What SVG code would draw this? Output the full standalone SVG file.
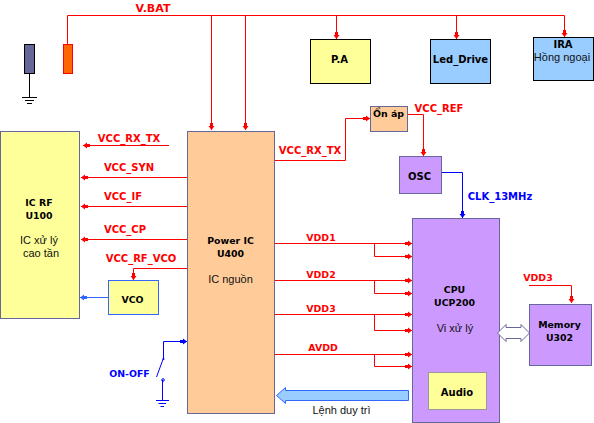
<svg xmlns="http://www.w3.org/2000/svg" width="594" height="423" viewBox="0 0 594 423">
<style>
text{font-family:"DejaVu Sans",sans-serif;font-size:10px;font-weight:bold;text-anchor:middle}
.r{fill:#f00}.b{fill:#00f}.k{fill:#000}
.s{font-size:9.4px}
.n{font-family:"Liberation Sans",sans-serif;font-size:11px;font-weight:normal;fill:#111}
.red{fill:none;stroke:#f00;stroke-width:1}
.blu{fill:none;stroke:#00f;stroke-width:1}
.box{stroke:#66669a;stroke-width:1}
.blk{stroke:#000;stroke-width:1}
.gnd{fill:none;stroke:#000;stroke-width:1}
</style>
<defs>
<marker id="ar" markerUnits="userSpaceOnUse" markerWidth="8" markerHeight="8" refX="7" refY="4" orient="auto"><path d="M0 2.500H3V1L7 4L3 7V5.500H0Z" fill="#f00"/></marker>
<marker id="ab" markerUnits="userSpaceOnUse" markerWidth="8" markerHeight="8" refX="7" refY="4" orient="auto"><path d="M0 2.500H3V1L7 4L3 7V5.500H0Z" fill="#00f"/></marker>
<marker id="al" markerUnits="userSpaceOnUse" markerWidth="8" markerHeight="8" refX="7" refY="4" orient="auto"><path d="M0 2.500H3V1L7 4L3 7V5.500H0Z" fill="#36f"/></marker>
</defs>
<g id="connectors">
<path class="red" d="M67.500 44V15.500H564.500V37" marker-end="url(#ar)"/>
<path class="red" d="M211.500 15.500V130" marker-end="url(#ar)"/>
<path class="red" d="M245.500 15.500V130" marker-end="url(#ar)"/>
<path class="red" d="M336.500 15.500V39" marker-end="url(#ar)"/>
<path class="red" d="M456.500 15.500V39" marker-end="url(#ar)"/>
<path class="red" d="M169 145.500H83" marker-end="url(#ar)"/>
<path class="red" d="M187 177.500H81" marker-end="url(#ar)"/>
<path class="red" d="M187 206.500H81" marker-end="url(#ar)"/>
<path class="red" d="M187 239.500H81" marker-end="url(#ar)"/>
<path class="red" d="M187 268.500H133.500V280" marker-end="url(#ar)"/>
<path d="M108 297.500H80" fill="none" stroke="#36f" marker-end="url(#al)"/>
<path class="red" d="M275 160.500H345.500V118.500H370" marker-end="url(#ar)"/>
<path class="red" d="M408 114.500H423.500V156" marker-end="url(#ar)"/>
<path class="blu" d="M441 172.500H462.500V218" marker-end="url(#ab)"/>
<path class="red" d="M275 243.500H412" marker-end="url(#ar)"/>
<path class="red" d="M374.500 243.500V256.500H412" marker-end="url(#ar)"/>
<path class="red" d="M275 280.500H412" marker-end="url(#ar)"/>
<path class="red" d="M374.500 280.500V293.500H412" marker-end="url(#ar)"/>
<path class="red" d="M275 314.500H412" marker-end="url(#ar)"/>
<path class="red" d="M374.500 314.500V330.500H412" marker-end="url(#ar)"/>
<path class="red" d="M275 354.500H412" marker-end="url(#ar)"/>
<path class="red" d="M374.500 354.500V366.500H412" marker-end="url(#ar)"/>
<path class="red" d="M529 285.500H571.500V303" marker-end="url(#ar)"/>
<path class="blu" d="M163.500 358V341.500H187" marker-end="url(#ab)"/>
<path class="blu" d="M163.500 358L156.500 377"/>
<path class="blu" d="M162.500 380V400"/>
<circle cx="163.500" cy="359" r="1" fill="#00f"/><circle cx="163" cy="380" r="1.300" fill="none" stroke="#00f"/>
<path class="blu" d="M156 400.500H169M158.500 403.500H166M160.500 406.500H164"/>
<path class="gnd" d="M29.500 73V97.500M22 97.500H37M25 100.500H34M27 103.500H32"/>
</g>
<g id="battery-neg"><rect class="blk" x="24.500" y="44.500" width="10" height="29" fill="#666699"/></g>
<g id="battery-pos"><rect x="63.500" y="44.500" width="9" height="29" fill="#f60" stroke="#f00"/></g>
<g id="vbat-label"><text class="r" style="font-size:11px" x="153" y="12">V.BAT</text></g>
<g id="pa"><rect class="blk" x="310.500" y="39.500" width="60" height="44" fill="#ffff99"/><text class="k" x="339.500" y="63">P.A</text></g>
<g id="led"><rect class="blk" x="430.500" y="39.500" width="60" height="44" fill="#99ccff"/><text class="k" x="460.500" y="63">Led_Drive</text></g>
<g id="ira"><rect class="blk" x="533.500" y="37.500" width="60" height="43" fill="#99ccff"/><text class="k" x="563" y="48">IRA</text><text class="n" x="562" y="61">Hồng ngoại</text></g>
<g id="onap"><rect class="box" x="370.500" y="106.500" width="37" height="25" fill="#ffcc99"/><text class="k s" x="388.500" y="117">Ổn áp</text></g>
<g id="osc"><rect class="box" x="399.500" y="156.500" width="42" height="37" fill="#cc99ff"/><text class="k" x="419.500" y="180">OSC</text></g>
<g id="icrf"><rect class="box" x="0.500" y="131.500" width="79" height="187" fill="#ffff99"/><text class="k s" x="39" y="206">IC RF</text><text class="k s" x="39" y="219">U100</text><text class="n" x="39" y="244">IC xử lý</text><text class="n" x="41" y="257">cao tần</text></g>
<g id="power"><rect class="box" x="187.500" y="131.500" width="87" height="282" fill="#ffcc99"/><text class="k s" x="230.500" y="244">Power IC</text><text class="k s" x="230.500" y="257">U400</text><text class="n" x="230.500" y="283">IC nguồn</text></g>
<g id="vco"><rect x="108.500" y="280.500" width="50" height="34" fill="#ffff99" stroke="#36f"/><text class="k s" x="132.500" y="303">VCO</text></g>
<g id="cpu"><rect class="box" x="412.500" y="218.500" width="87" height="204" fill="#cc99ff"/><text class="k s" x="454.500" y="293">CPU</text><text class="k s" x="454.500" y="306">UCP200</text><text class="n" x="455" y="332">Vi xử lý</text></g>
<g id="audio"><rect x="428.500" y="372.500" width="58" height="37" fill="#ffff99" stroke="#999"/><text class="k" x="457" y="396">Audio</text></g>
<g id="memory"><rect class="box" x="529.500" y="304.500" width="62" height="61" fill="#cc99ff"/><text class="k s" x="559.500" y="328">Memory</text><text class="k s" x="559.500" y="341">U302</text></g>
<g id="bus"><path d="M497.500 333L506 324.500V327.500H521V324.500L529.500 333L521 341.500V338.500H506V341.500Z" fill="#fff" stroke="#66669a"/></g>
<g id="maintain"><path d="M276.500 395.500L285.500 387.500V390.500H408.500V400.500H285.500V403.500Z" fill="#99ccff" stroke="#36f"/><text class="n" x="341.500" y="414">Lệnh duy trì</text></g>
<g id="labels">
<text class="r" x="129" y="142">VCC_RX_TX</text>
<text class="r" x="129" y="171">VCC_SYN</text>
<text class="r" x="123" y="200">VCC_IF</text>
<text class="r" x="125" y="233">VCC_CP</text>
<text class="r" x="141" y="262">VCC_RF_VCO</text>
<text class="r" x="310" y="154">VCC_RX_TX</text>
<text class="r" x="439" y="112">VCC_REF</text>
<text style="fill:#00f" x="500" y="200">CLK_13MHz</text>
<text class="r s" x="321" y="241">VDD1</text>
<text class="r s" x="321" y="278">VDD2</text>
<text class="r s" x="321" y="312">VDD3</text>
<text class="r s" x="323" y="351">AVDD</text>
<text class="r s" x="538" y="281">VDD3</text>
<text class="b s" x="129.500" y="377">ON-OFF</text>
</g>
</svg>
